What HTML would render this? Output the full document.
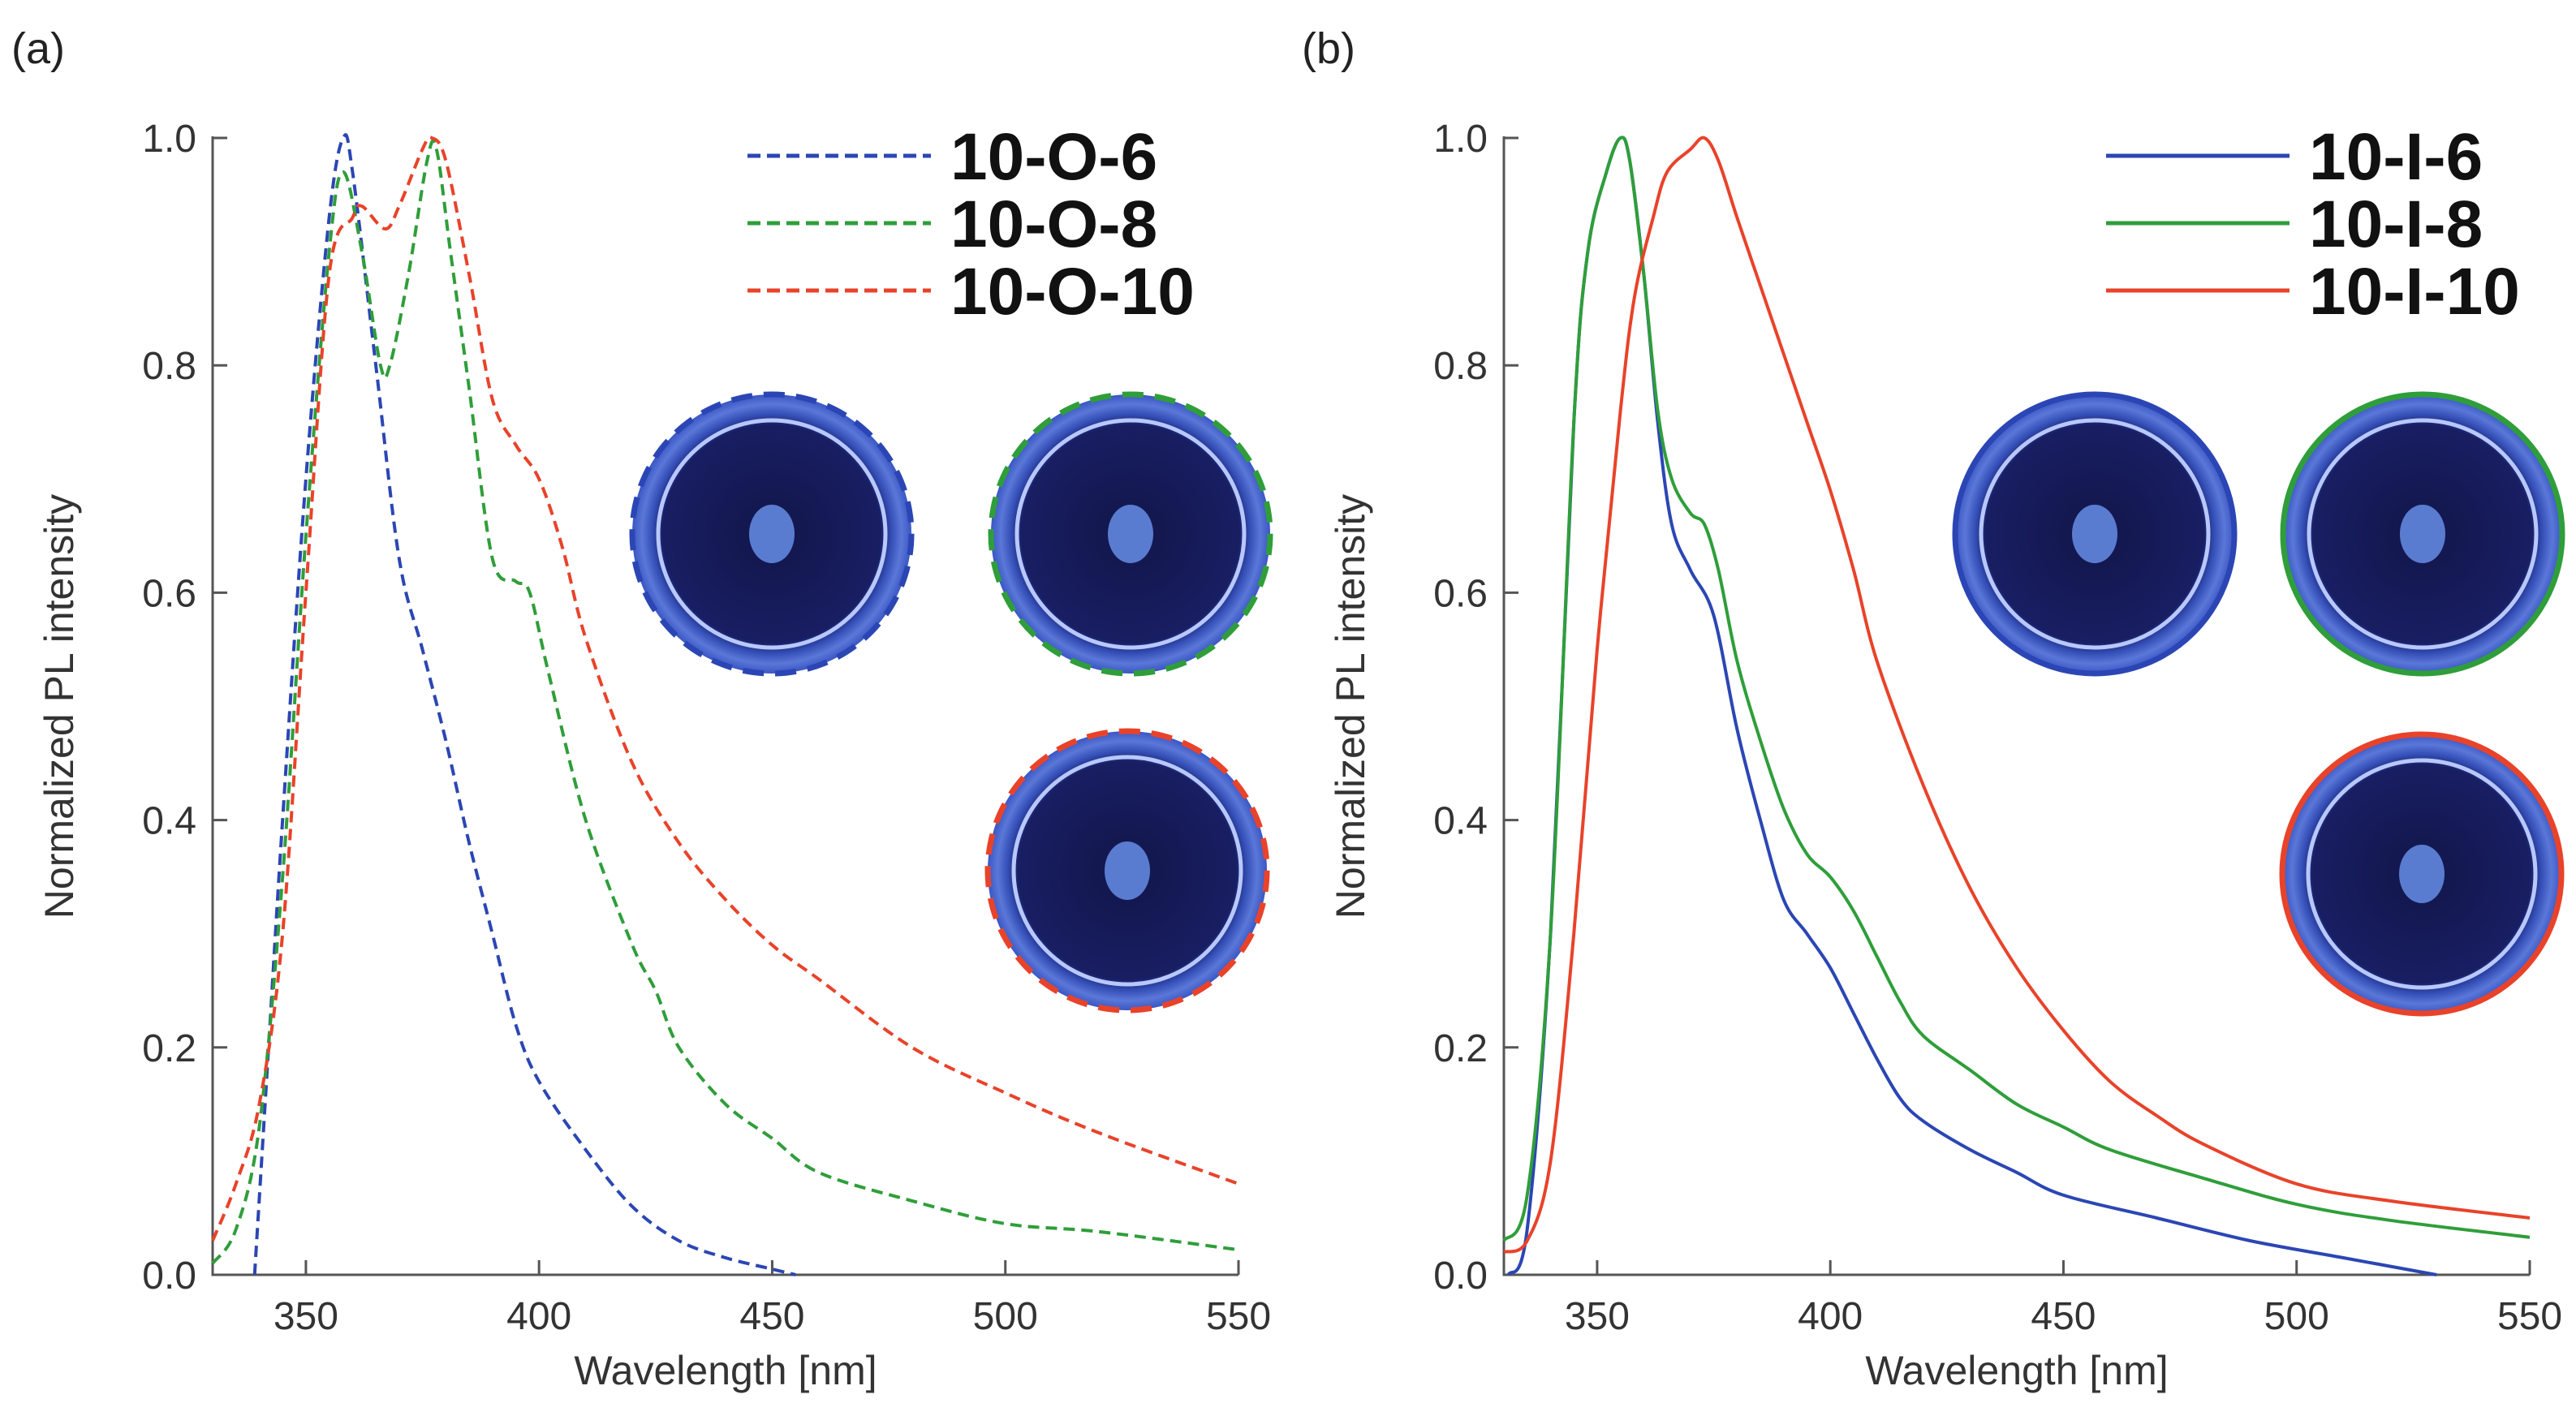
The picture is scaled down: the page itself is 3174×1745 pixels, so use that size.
<!DOCTYPE html>
<html><head><meta charset="utf-8"><style>
body{margin:0;background:#fff}
svg{display:block;font-family:"Liberation Sans",Arial,sans-serif}
</style></head><body>
<svg id="fig" width="3174" height="1745" viewBox="0 0 3174 1745" xmlns="http://www.w3.org/2000/svg">
<defs>
<radialGradient id="dish" cx="50%" cy="50%" r="50%">
<stop offset="0" stop-color="#12164a"/><stop offset="0.78" stop-color="#181e62"/><stop offset="0.86" stop-color="#3550b8"/><stop offset="0.93" stop-color="#5a78d8"/><stop offset="1" stop-color="#3a56c4"/>
</radialGradient>
</defs>
<text x="14" y="78" font-size="54" fill="#222">(a)</text>
<text x="1604" y="78" font-size="54" fill="#222">(b)</text>
<g id="pa"></g>
<g id="pb"></g>
</svg>
<script>
const xTicks=[350,400,450,500,550];
const yTicks=[0,0.2,0.4,0.6,0.8,1.0];
const aNames=["10-O-6","10-O-8","10-O-10"];
const bNames=["10-I-6","10-I-8","10-I-10"];
const aBlueX=[339,342,345,350,355,358,360,365,370,375,380,385,390,395,400,410,420,430,440,450,455];
const aBlueY=[0,0.2,0.4,0.7,0.93,1.0,0.97,0.8,0.63,0.55,0.47,0.38,0.3,0.22,0.17,0.11,0.06,0.03,0.015,0.005,0];
const aGreenX=[330,335,340,345,350,355,358,362,366,368,372,376,378,381,385,390,395,398,402,410,420,425,430,440,450,460,480,500,520,550];
const aGreenY=[0.01,0.04,0.13,0.35,0.65,0.9,0.97,0.9,0.8,0.8,0.88,0.98,0.99,0.9,0.78,0.63,0.61,0.6,0.53,0.4,0.29,0.25,0.2,0.15,0.12,0.09,0.065,0.045,0.038,0.022];
const aRedX=[330,335,340,345,350,355,360,362,367,370,375,377,380,385,390,395,400,405,410,420,430,440,450,460,480,500,520,550];
const aRedY=[0.03,0.08,0.15,0.3,0.6,0.88,0.93,0.94,0.92,0.94,0.99,1.0,0.98,0.88,0.77,0.73,0.7,0.64,0.56,0.45,0.38,0.33,0.29,0.26,0.2,0.16,0.125,0.08];
const bBlueX=[331,335,340,345,348,352,355,357,360,363,366,370,375,380,385,390,395,400,405,410,415,420,430,440,450,470,490,510,530];
const bBlueY=[0,0.04,0.3,0.75,0.9,0.97,1.0,0.98,0.88,0.75,0.66,0.62,0.58,0.48,0.4,0.33,0.3,0.27,0.23,0.19,0.155,0.135,0.11,0.09,0.07,0.05,0.03,0.015,0];
const bGreenX=[330,335,340,345,348,352,355,357,360,363,366,370,373,376,380,385,390,395,400,405,410,415,420,430,440,450,460,480,500,520,550];
const bGreenY=[0.03,0.07,0.3,0.75,0.9,0.97,1.0,0.98,0.88,0.76,0.7,0.67,0.66,0.62,0.54,0.47,0.41,0.37,0.35,0.32,0.28,0.24,0.21,0.18,0.15,0.13,0.11,0.085,0.062,0.048,0.033];
const bRedX=[330,335,340,345,350,355,358,362,365,370,373,376,380,385,390,395,400,405,410,420,430,440,450,460,470,480,500,520,550];
const bRedY=[0.02,0.03,0.1,0.3,0.55,0.76,0.86,0.93,0.97,0.99,1.0,0.98,0.93,0.87,0.81,0.75,0.69,0.62,0.54,0.43,0.34,0.27,0.215,0.17,0.14,0.115,0.08,0.065,0.05];
const colors=["#2b46b4","#2f9e3a","#e8432a"];
const NS="http://www.w3.org/2000/svg";
function mk(p,t,a){const e=document.createElementNS(NS,t);for(const k in a)e.setAttribute(k,a[k]);p.appendChild(e);return e;}
function smooth(P){
  let d=`M${P[0][0].toFixed(1)},${P[0][1].toFixed(1)}`;
  for(let i=0;i<P.length-1;i++){
    const p0=P[Math.max(0,i-1)],p1=P[i],p2=P[i+1],p3=P[Math.min(P.length-1,i+2)];
    const c1=[p1[0]+(p2[0]-p0[0])/6,p1[1]+(p2[1]-p0[1])/6];
    const c2=[p2[0]-(p3[0]-p1[0])/6,p2[1]-(p3[1]-p1[1])/6];
    d+=` C${c1[0].toFixed(1)},${c1[1].toFixed(1)} ${c2[0].toFixed(1)},${c2[1].toFixed(1)} ${p2[0].toFixed(1)},${p2[1].toFixed(1)}`;
  }
  return d;
}
function panel(g,x0,series,names,dashed,legX,dishes){
  const X=v=>x0+(v-330)/220*1264;
  const Y=v=>1571-v*1401;
  const ax=mk(g,'path',{d:`M${X(330)},${Y(1)-2}V${Y(0)}H${X(550)}`,fill:'none',stroke:'#555',"stroke-width":3});
  
  
  xTicks.forEach(t=>{
    const l=mk(g,'line',{x1:X(t),x2:X(t),y1:Y(0),y2:Y(0)-18,stroke:'#555',"stroke-width":3});
    
    
    const tx=mk(g,'text',{x:X(t),y:1638,"font-size":48,"text-anchor":"middle",fill:'#333'});tx.textContent=t;
    
    
  });
  yTicks.forEach(t=>{
    const l=mk(g,'line',{x1:X(330),x2:X(330)+18,y1:Y(t),y2:Y(t),stroke:'#555',"stroke-width":3});
    
    
    const tx=mk(g,'text',{x:X(330)-20,y:Y(t)+17,"font-size":48,"text-anchor":"end",fill:'#333'});tx.textContent=t.toFixed(1);
    
    
  });
  const xt=mk(g,'text',{x:X(440),y:1706,"font-size":50,"text-anchor":"middle",fill:'#333'});xt.textContent='Wavelength [nm]';
  
  
  const yt=mk(g,'text',{x:0,y:0,"font-size":50,"text-anchor":"middle",fill:'#333',transform:`translate(${x0-172},${Y(0.5)}) rotate(-90)`});yt.textContent='Normalized PL intensity';
  
  
  dishes.forEach((d,i)=>{
    const c=mk(g,'circle',{cx:d[0],cy:d[1],r:172,fill:'url(#dish)',stroke:colors[i],"stroke-width":7,"stroke-dasharray":dashed?"26 14":"none"});
    
    
    mk(g,'circle',{cx:d[0],cy:d[1],r:140,fill:'none',stroke:'#b8c8ff',"stroke-width":5});
    mk(g,'ellipse',{cx:d[0],cy:d[1],rx:28,ry:36,fill:'#5a7cd0'});
  });
  series.forEach((s,i)=>{
    const P=s[0].map((v,j)=>[X(v),Y(s[1][j])]);
    const p=mk(g,'path',{d:smooth(P),fill:'none',stroke:colors[i],"stroke-width":4,"stroke-dasharray":dashed?"14 8":"none","stroke-linejoin":"round"});
    
    
    const ly=192+i*83;
    const l=mk(g,'line',{x1:legX,x2:legX+226,y1:ly,y2:ly,stroke:colors[i],"stroke-width":5,"stroke-dasharray":dashed?"16 8":"none"});
    
    
    const t=mk(g,'text',{x:legX+250,y:ly+29,"font-size":82,"font-weight":"bold",fill:'#111'});t.textContent=names[i];
    
    
  });
}
panel(document.getElementById('pa'),262,[[aBlueX,aBlueY],[aGreenX,aGreenY],[aRedX,aRedY]],aNames,true,921,[[951,658],[1393,658],[1389,1073]]);
panel(document.getElementById('pb'),1853,[[bBlueX,bBlueY],[bGreenX,bGreenY],[bRedX,bRedY]],bNames,false,2595,[[2581,658],[2985,658],[2984,1077]]);
</script>
</body></html>
